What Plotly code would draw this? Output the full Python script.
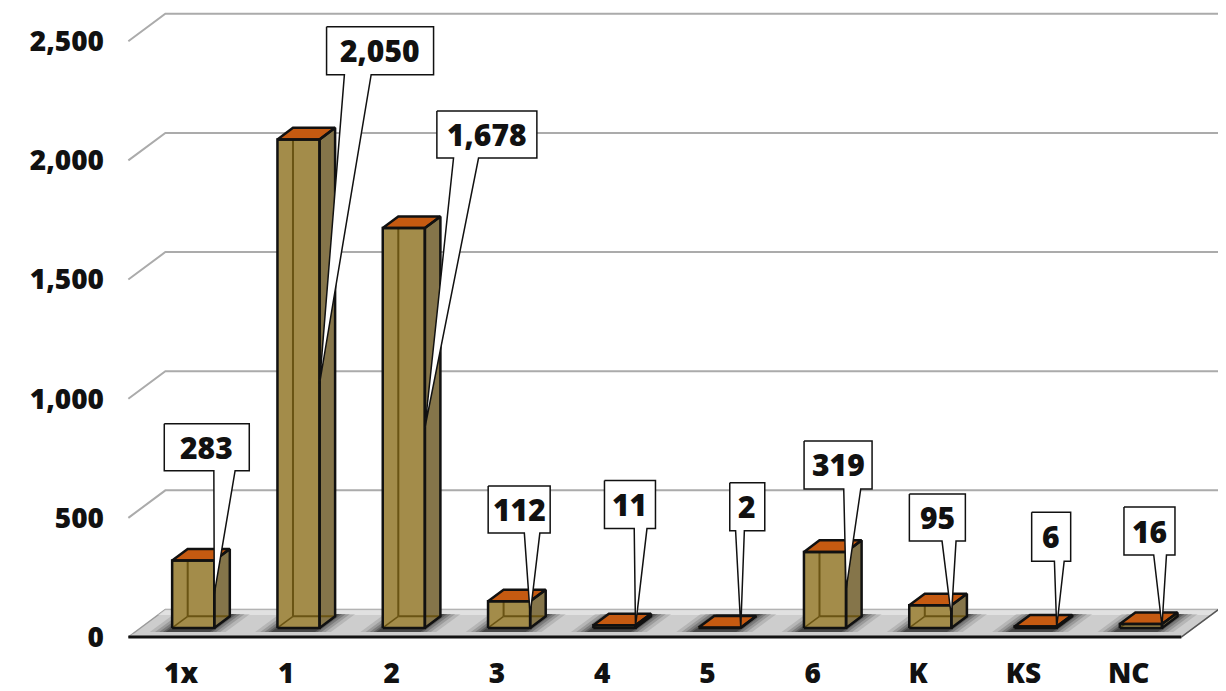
import plotly.graph_objects as go

# ---------------- data ----------------
CATEGORIES = ["1x", "1", "2", "3", "4", "5", "6", "K", "KS", "NC"]
VALUES = [283, 2050, 1678, 112, 11, 2, 319, 95, 6, 16]
Y_TICKS = [0, 500, 1000, 1500, 2000, 2500]
Y_TICK_LABELS = ["0", "500", "1,000", "1,500", "2,000", "2,500"]
VALUE_LABELS = ["283", "2,050", "1,678", "112", "11", "2", "319", "95", "6", "16"]

# callout placement (pixel offset of box centre from tip, box width, box height)
CALLOUT_LAYOUT = [
    (-7.5, -147, 85, 47),
    (60.5, -333, 107, 48),
    (62, -293.5, 100, 47),
    (-11, -105, 62, 47),
    (-5.5, -122, 51, 48),
    (6.5, -121, 35, 48),
    (-8, -125, 68, 48),
    (-14, -99, 56, 47),
    (-5.5, -90.5, 39, 49),
    (-12.5, -95, 51, 48),
]

# ---------------- geometry / style ----------------
PAGE_OFF = 8                 # default body margin of the html page
W, H = 1226 - PAGE_OFF, 691 - PAGE_OFF
ML, MR, MT, MB = 102, 0, 0, 40
X0, PXX = 181.0 - PAGE_OFF, 105.3    # pixel x of category 0 (front plane), px per category
Y0, PXY = 637.0 - PAGE_OFF, 0.2383   # pixel y of value 0 (front plane), px per unit
DEPTH_DX, DEPTH_DY = 37.0, 27.5      # pixel shift from front to back of floor
D0, D1 = 0.33, 0.75                  # bar depth (fraction of floor depth)
HALF = 0.2                           # bar half-width in category units

FONT = "Open Sans"
FRONT_C = "#A38C4A"
SIDE_C = "#85754A"
TOP_C = "#C55A11"
INNER_C = "#6A5414"
EDGE_C = "#111111"
GRID_C = "#ABABAB"
FLOOR_C = "#CDCDCD"

x_range = [(ML - X0) / PXX, (W - MR - X0) / PXX]
y_range = [(Y0 - (H - MB)) / PXY, (Y0 - MT) / PXY]


def P(i, v, d):
    """front-plane (i, v) shifted back by depth fraction d -> data coords"""
    return i + d * DEPTH_DX / PXX, v + d * DEPTH_DY / PXY


def px2d(px, py):
    return (px - X0) / PXX, (Y0 - py) / PXY


def d2px(x, y):
    return X0 + x * PXX, Y0 - y * PXY


fig = go.Figure()


def poly(pts, fill, line_color=None, width=0, opacity=1.0):
    xs = [p[0] for p in pts] + [pts[0][0]]
    ys = [p[1] for p in pts] + [pts[0][1]]
    fig.add_trace(go.Scatter(
        x=xs, y=ys, mode="lines", fill="toself", fillcolor=fill,
        line=dict(color=line_color if line_color else "rgba(0,0,0,0)", width=width),
        opacity=opacity, hoverinfo="skip", showlegend=False))


def line(pts, color, width):
    fig.add_trace(go.Scatter(
        x=[p[0] for p in pts], y=[p[1] for p in pts], mode="lines",
        line=dict(color=color, width=width), hoverinfo="skip", showlegend=False))


n = len(CATEGORIES)
left, right = -0.5, n - 0.5

# gridlines on the back wall
for v in Y_TICKS[1:]:
    line([P(left, v, 0), P(left, v, 1), P(right + 0.035, v, 1)], GRID_C, 2)

# floor
poly([P(left, 0, 0), P(right, 0, 0), P(right, 0, 1), P(left, 0, 1)], FLOOR_C, "#9A9A9A", 1.5)
poly([P(left, 0, 0.8), P(right, 0, 0.8), P(right, 0, 1), P(left, 0, 1)], "rgba(238,238,238,0.6)")
# shadows on floor
for i in range(n):
    for e, op in [(0.16, 0.12), (0.11, 0.17), (0.07, 0.22), (0.035, 0.28), (0.01, 0.32)]:
        poly([P(i - HALF - e, 0, 0.18), P(i + HALF + e, 0, 0.18),
              P(i + HALF + e, 0, 0.84), P(i - HALF - e, 0, 0.84)], "rgba(20,20,20,1)", opacity=op)
poly([P(left, 0, 0), P(right, 0, 0), P(right, 0, 0.12), P(left, 0, 0.12)], "rgba(205,205,205,0.7)")
line([P(left, 0, 0), P(right, 0, 0)], EDGE_C, 3)
line([P(right, 0, 0), P(right, 0, 1)], "#555555", 1.5)

# bars
for i, v in enumerate(VALUES):
    a, b = i - HALF, i + HALF
    front = [P(a, 0, D0), P(b, 0, D0), P(b, v, D0), P(a, v, D0)]
    side = [P(b, 0, D0), P(b, 0, D1), P(b, v, D1), P(b, v, D0)]
    top = [P(a, v, D0), P(b, v, D0), P(b, v, D1), P(a, v, D1)]
    poly(front, FRONT_C)
    poly(side, SIDE_C)
    # edges seen through the translucent faces
    line([P(a, 0, D1), P(a, v, D1)], INNER_C, 2)
    line([P(a, 0, D1), P(b, 0, D1)], INNER_C, 2)
    line([P(a, 0, D0), P(a, 0, D1)], INNER_C, 1.5)
    poly(top, TOP_C, EDGE_C, 2.5)
    poly(front, "rgba(0,0,0,0)", EDGE_C, 2.5)
    poly(side, "rgba(0,0,0,0)", EDGE_C, 2.5)

# callouts
annotations = []
for i, v in enumerate(VALUES):
    tx, ty = d2px(*P(i + HALF, v / 2.0, D0))
    dx, dy, bw, bh = CALLOUT_LAYOUT[i]
    cx, cy = tx + dx, ty + dy
    l, r, t, bt = cx - bw / 2, cx + bw / 2, cy - bh / 2, cy + bh / 2
    if tx < cx:
        f1, f2 = 1 / 6, 5 / 12
    else:
        f1, f2 = 7 / 12, 5 / 6
    pts_px = [(l, t), (r, t), (r, bt), (l + f2 * bw, bt), (tx, ty), (l + f1 * bw, bt), (l, bt)]
    poly([px2d(*p) for p in pts_px], "white", EDGE_C, 1.5)
    ax_, ay_ = px2d(cx, cy)
    annotations.append(dict(
        x=ax_, y=ay_, text=VALUE_LABELS[i], showarrow=False,
        font=dict(family=FONT, size=30, color="#111111", weight=800),
        xanchor="center", yanchor="middle"))

fig.update_layout(
    width=W, height=H,
    margin=dict(l=ML, r=MR, t=MT, b=MB),
    plot_bgcolor="white", paper_bgcolor="white",
    showlegend=False,
    annotations=annotations,
    xaxis=dict(range=x_range, showgrid=False, zeroline=False, showline=False,
               tickmode="array", tickvals=list(range(n)), ticktext=CATEGORIES,
               tickfont=dict(family=FONT, size=28, color="#111111", weight=800),
               ticks="", ticklabelstandoff=3, automargin=False, fixedrange=True),
    yaxis=dict(range=y_range, showgrid=False, zeroline=False, showline=False,
               tickmode="array", tickvals=Y_TICKS, ticktext=Y_TICK_LABELS,
               tickfont=dict(family=FONT, size=28, color="#111111", weight=800),
               ticks="", ticklabelstandoff=5, automargin=False, fixedrange=True),
)

fig.write_html("out.html")
